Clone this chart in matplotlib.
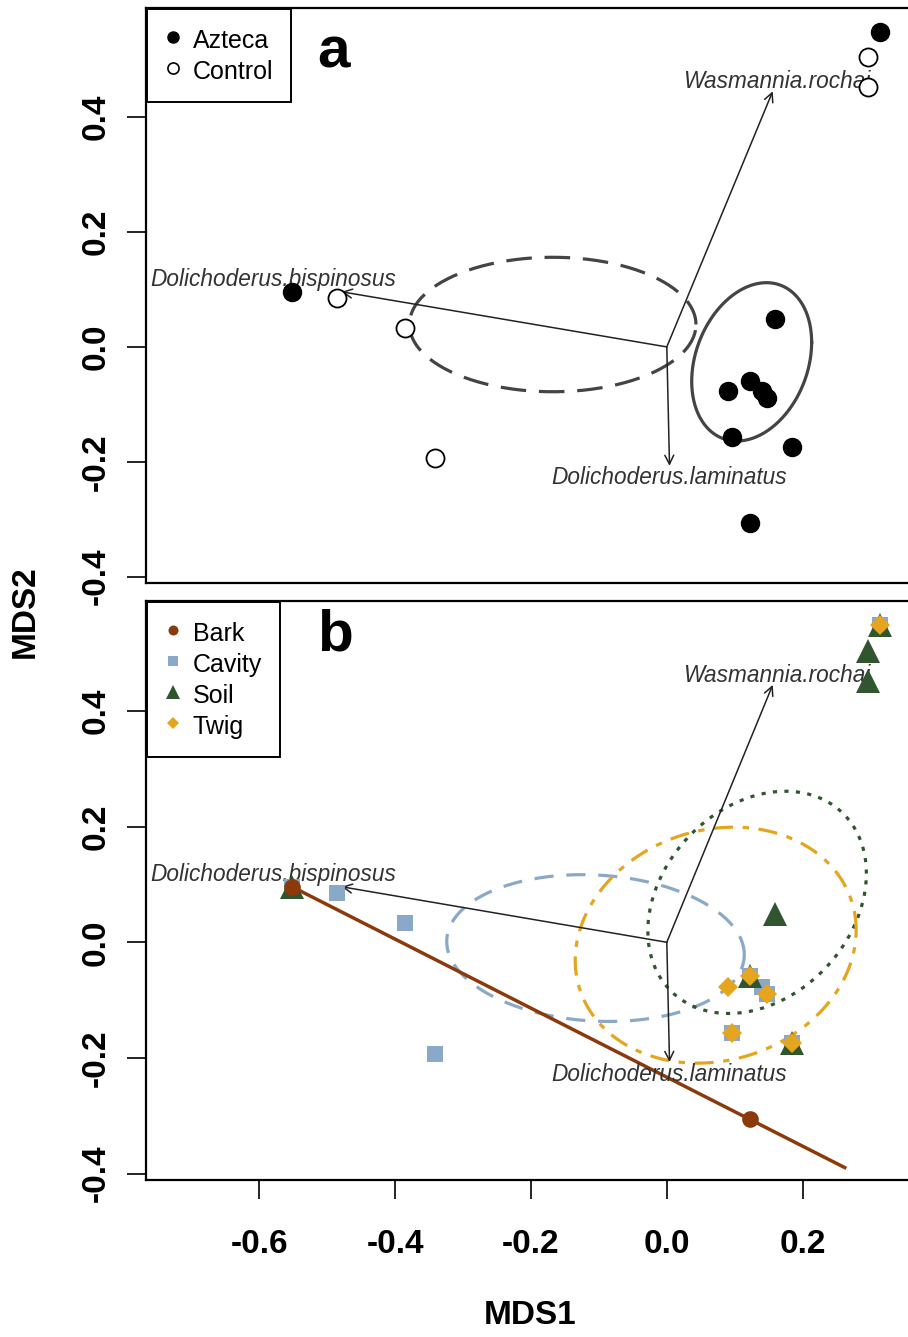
import numpy as np
import matplotlib
matplotlib.use("Agg")
import matplotlib.pyplot as plt
from matplotlib.lines import Line2D

# NMDS site scores (same sites in both panels)
mds1 = [-0.552, 0.314, 0.297, 0.297, -0.485, -0.386, -0.342, 0.159,
        0.122, 0.090, 0.140, 0.147, 0.096, 0.184, 0.122]
mds2 = [0.096, 0.548, 0.504, 0.452, 0.085, 0.033, -0.193, 0.049,
        -0.059, -0.077, -0.077, -0.089, -0.157, -0.174, -0.306]
treatment = ["Azteca", "Azteca", "Control", "Control", "Control", "Control",
             "Control", "Azteca", "Azteca", "Azteca", "Azteca", "Azteca",
             "Azteca", "Azteca", "Azteca"]
habitats = [["Bark", "Cavity", "Soil"], ["Cavity", "Soil", "Twig"], ["Soil"],
            ["Soil"], ["Cavity"], ["Cavity"], ["Cavity"], ["Soil"],
            ["Cavity", "Soil", "Twig"], ["Twig"], ["Cavity"], ["Cavity", "Twig"],
            ["Cavity", "Twig"], ["Cavity", "Soil", "Twig"], ["Bark"]]

# envfit species vectors
species = ["Wasmannia.rochai", "Dolichoderus.bispinosus", "Dolichoderus.laminatus"]
vec_x = [0.156, -0.479, 0.004]
vec_y = [0.445, 0.096, -0.207]
lab_x = [0.162, -0.579, 0.004]
lab_y = [0.462, 0.117, -0.228]

# ellipses: centre and covariance (data units)
ell_a = {"Control": ((-0.168, 0.039), [[0.0445, 0.0], [0.0, 0.0137]]),
         "Azteca": ((0.125, -0.026), [[0.0078, 0.0030], [0.0030, 0.0190]])}
ell_b = {"Cavity": ((-0.105, -0.010), [[0.048, -0.0025], [-0.0025, 0.0161]]),
         "Soil": ((0.133, 0.069), [[0.0259, 0.008], [0.008, 0.0369]]),
         "Twig": ((0.072, -0.005), [[0.0428, 0.0054], [0.0054, 0.0416]])}
bark_line_x = [-0.552, 0.262]

hab_order = ["Cavity", "Soil", "Twig", "Bark"]
hab_colors = {"Bark": "#8C3A0C", "Cavity": "#8AA9C8", "Soil": "#30552F", "Twig": "#E5A51E"}
hab_markers = {"Bark": "o", "Cavity": "s", "Soil": "^", "Twig": "D"}
hab_sizes = {"Bark": 12, "Cavity": 12, "Soil": 17, "Twig": 10}
hab_ls = {"Cavity": (0, (6, 4)), "Soil": (0, (1.3, 2.3)), "Twig": (0, (6, 3, 2, 3))}

plt.rcParams["font.family"] = ["Liberation Sans", "DejaVu Sans"]


def ellipse_pts(center, cov, n=200):
    t = np.linspace(0, 2 * np.pi, n)
    L = np.linalg.cholesky(np.array(cov))
    pts = L @ np.vstack([np.cos(t), np.sin(t)])
    return center[0] + pts[0], center[1] + pts[1]


fig = plt.figure(figsize=(9.08, 13.37), dpi=100)
W, H = 908, 1337
left, right = 146, 916
ax_a = fig.add_axes([left / W, 1 - 583 / H, (right - left) / W, (583 - 8) / H])
ax_b = fig.add_axes([left / W, 1 - 1180 / H, (right - left) / W, (1180 - 601) / H])

xlim = (-0.767, 0.367)
ylim = (-0.411, 0.59)


def setup(ax, xlabels):
    ax.set_xlim(*xlim)
    ax.set_ylim(*ylim)
    ax.set_xticks([-0.6, -0.4, -0.2, 0.0, 0.2])
    ax.set_yticks([-0.4, -0.2, 0.0, 0.2, 0.4])
    ax.set_yticklabels(["-0.4", "-0.2", "0.0", "0.2", "0.4"], rotation=90,
                       va="center", fontweight="bold", fontsize=24)
    if xlabels:
        ax.set_xticklabels(["-0.6", "-0.4", "-0.2", "0.0", "0.2"], fontweight="bold",
                           fontsize=24)
        ax.tick_params(axis="x", length=14, width=1.2, pad=21)
    else:
        ax.tick_params(axis="x", bottom=False, labelbottom=False)
    ax.tick_params(axis="y", length=14, width=1.2, pad=11)
    for s in ax.spines.values():
        s.set_linewidth(1.6)
    ax.spines["right"].set_visible(False)


def draw_vectors(ax):
    for name, vx, vy, lx, ly in zip(species, vec_x, vec_y, lab_x, lab_y):
        ax.annotate("", xy=(vx, vy), xytext=(0, 0),
                    arrowprops=dict(arrowstyle="->", lw=1.1, color="#222222",
                                    mutation_scale=16, shrinkA=0, shrinkB=0))
        ax.text(lx, ly, name, ha="center", va="center", style="italic",
                fontsize=16.3, color="#333333")


def legend(ax, handles, labels):
    lg = ax.legend(handles, labels, loc="upper left", fancybox=False,
                   framealpha=1, edgecolor="black", fontsize=18,
                   handlelength=0.6, handleheight=1.25, handletextpad=0.5,
                   labelspacing=0.17, borderpad=0.72, borderaxespad=0,
                   bbox_to_anchor=(0.0015, 0.999))
    lg.get_frame().set_linewidth(1.4)


# ---- panel a
setup(ax_a, False)
for key, ls in [("Control", (0, (8, 4))), ("Azteca", "-")]:
    ex, ey = ellipse_pts(*ell_a[key])
    ax_a.plot(ex, ey, color="#444444", lw=2.3, linestyle=ls)
draw_vectors(ax_a)
mds1_arr, mds2_arr = np.array(mds1), np.array(mds2)
is_az = np.array([t == "Azteca" for t in treatment])
ax_a.plot(mds1_arr[is_az], mds2_arr[is_az], "o", color="black", ms=13, zorder=5)
ax_a.plot(mds1_arr[~is_az], mds2_arr[~is_az], "o", mfc="white", mec="black",
          mew=1.3, ms=13, zorder=5)
leg_a = [Line2D([], [], marker="o", ls="none", color="black", ms=8),
         Line2D([], [], marker="o", ls="none", mfc="white", mec="black", mew=1.2, ms=8)]
legend(ax_a, leg_a, ["Azteca", "Control"])
ax_a.text(0.243, 0.922, "a", transform=ax_a.transAxes, ha="center", va="center",
          fontsize=42, fontweight="bold")

# ---- panel b
setup(ax_b, True)
for key in ["Cavity", "Soil", "Twig"]:
    ex, ey = ellipse_pts(*ell_b[key])
    ax_b.plot(ex, ey, color=hab_colors[key], lw=2.3, linestyle=hab_ls[key])
bark_pts = [(x, y) for x, y, h in zip(mds1, mds2, habitats) if "Bark" in h]
slope = (bark_pts[1][1] - bark_pts[0][1]) / (bark_pts[1][0] - bark_pts[0][0])
bx = np.array(bark_line_x)
ax_b.plot(bx, bark_pts[0][1] + slope * (bx - bark_pts[0][0]), color=hab_colors["Bark"], lw=2.5)
draw_vectors(ax_b)
for hab in hab_order:
    xs = [x for x, h in zip(mds1, habitats) if hab in h]
    ys = [y for y, h in zip(mds2, habitats) if hab in h]
    ax_b.plot(xs, ys, hab_markers[hab], color=hab_colors[hab], ms=hab_sizes[hab],
              mew=0, zorder=5)
leg_b = [Line2D([], [], marker=hab_markers[h], ls="none", color=hab_colors[h],
                ms=hab_sizes[h] * 0.6, mew=0) for h in ["Bark", "Cavity", "Soil", "Twig"]]
legend(ax_b, leg_b, ["Bark", "Cavity", "Soil", "Twig"])
ax_b.text(0.246, 0.94, "b", transform=ax_b.transAxes, ha="center", va="center",
          fontsize=42, fontweight="bold")

fig.text(530 / W, 1 - 1315 / H, "MDS1", ha="center", va="center",
         fontsize=24, fontweight="bold")
fig.text(25 / W, 1 - 612 / H, "MDS2", ha="center", va="center", rotation=90,
         fontsize=24, fontweight="bold")

fig.savefig("out.png", dpi=100)
